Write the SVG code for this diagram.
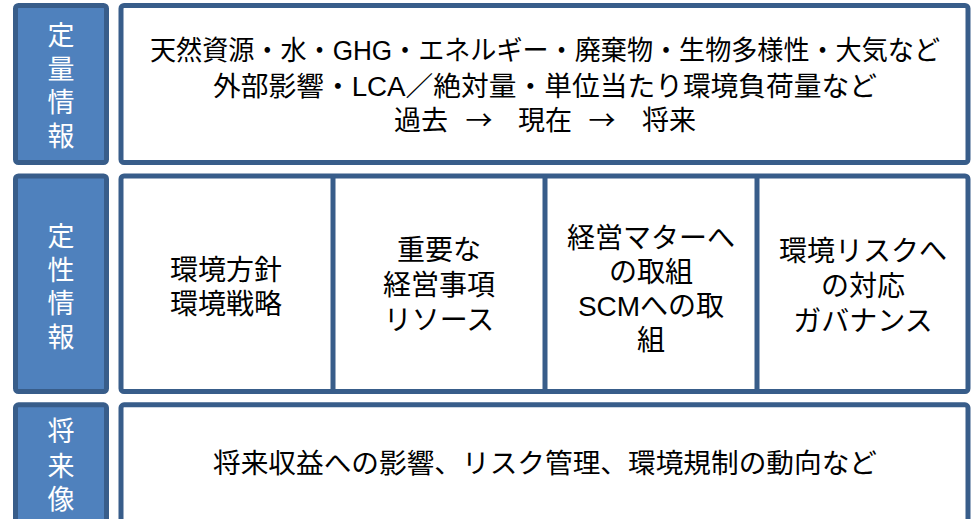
<svg xmlns="http://www.w3.org/2000/svg" width="973" height="519" viewBox="0 0 973 519">
  <style>
    .lbl { fill: #4F81BD; stroke: #385D8A; stroke-width: 5; }
    .box { fill: #FFFFFF; stroke: #385D8A; stroke-width: 5; }
    .div { stroke: #385D8A; stroke-width: 5; }
    text { font-family: "Liberation Sans", "Noto Sans CJK JP", sans-serif; font-size: 27px; text-anchor: middle; }
    .c { font-size: 28px; }
    .arr { font-family: "Noto Sans CJK JP", sans-serif; }
    .w { fill: #FFFFFF; }
    .k { fill: #000000; }
  </style>
  <rect width="973" height="519" fill="#FFFFFF"/>

  <g id="label-quant">
    <rect class="lbl" x="15.5" y="5.5" width="91" height="157" rx="3"/>
    <text class="w" x="61" y="45">定</text>
    <text class="w" x="61" y="79">量</text>
    <text class="w" x="61" y="112">情</text>
    <text class="w" x="61" y="146">報</text>
  </g>

  <g id="box-quant">
    <rect class="box" x="121" y="5.5" width="847" height="157" rx="3"/>
    <text class="k" x="545" y="60" textLength="790" lengthAdjust="spacingAndGlyphs">天然資源・水・GHG・エネルギー・廃棄物・生物多様性・大気など</text>
    <text class="k" x="545" y="96" textLength="664" lengthAdjust="spacingAndGlyphs">外部影響・LCA／絶対量・単位当たり環境負荷量など</text>
    <text class="k" y="130"><tspan x="421">過去</tspan><tspan class="arr" x="479">→</tspan><tspan x="545">現在</tspan><tspan class="arr" x="602">→</tspan><tspan x="669">将来</tspan></text>
  </g>

  <g id="label-qual">
    <rect class="lbl" x="15.5" y="176" width="91" height="215.5" rx="3"/>
    <text class="w" x="61" y="246">定</text>
    <text class="w" x="61" y="280">性</text>
    <text class="w" x="61" y="313">情</text>
    <text class="w" x="61" y="347">報</text>
  </g>

  <g id="box-qual">
    <rect class="box" x="121" y="176" width="847" height="215.5" rx="3"/>
    <line class="div" x1="333" y1="176" x2="333" y2="391.5"/>
    <line class="div" x1="545" y1="176" x2="545" y2="391.5"/>
    <line class="div" x1="757" y1="176" x2="757" y2="391.5"/>
  </g>

  <g id="cell-policy">
    <text class="k c" x="226" y="280">環境方針</text>
    <text class="k c" x="226" y="314">環境戦略</text>
  </g>
  <g id="cell-material">
    <text class="k c" x="439" y="260">重要な</text>
    <text class="k c" x="439" y="295">経営事項</text>
    <text class="k c" x="439" y="330">リソース</text>
  </g>
  <g id="cell-management">
    <text class="k c" x="651" y="248">経営マターへ</text>
    <text class="k c" x="651" y="282">の取組</text>
    <text class="k c" x="651" y="316">SCMへの取</text>
    <text class="k c" x="651" y="350">組</text>
  </g>
  <g id="cell-risk">
    <text class="k c" x="863" y="261">環境リスクへ</text>
    <text class="k c" x="863" y="296">の対応</text>
    <text class="k c" x="863" y="331">ガバナンス</text>
  </g>

  <g id="label-future">
    <rect class="lbl" x="15.5" y="404.8" width="91" height="130" rx="3"/>
    <text class="w" x="61" y="441">将</text>
    <text class="w" x="61" y="476">来</text>
    <text class="w" x="61" y="509">像</text>
  </g>

  <g id="box-future">
    <rect class="box" x="121" y="404.8" width="847" height="130" rx="3"/>
    <text class="k" x="545" y="473" textLength="664" lengthAdjust="spacingAndGlyphs">将来収益への影響、リスク管理、環境規制の動向など</text>
  </g>

  <g id="connectors"></g>
</svg>
